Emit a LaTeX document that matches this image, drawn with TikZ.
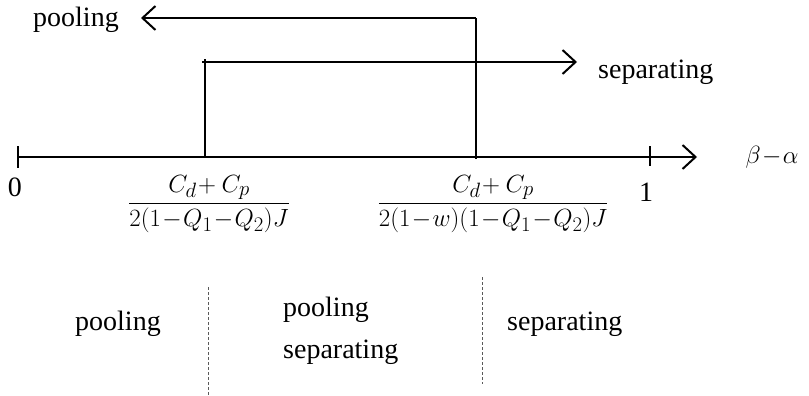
\documentclass[tikz,border=0pt]{standalone}
\usepackage{amsmath}
\usepackage{fontspec}
\setmainfont{Liberation Serif}
\usetikzlibrary{arrows.meta}
\begin{document}
\begin{tikzpicture}[x=1pt,y=-1pt,
  solidline/.style={line width=2pt},
  arr/.style={solidline,-{Straight Barb[length=13pt,width=24pt,line width=2pt]}},
  sep/.style={densely dashed,line width=0.8pt,gray!70!black},
  lbl/.style={inner sep=0pt,font=\fontsize{28}{32}\selectfont},
  mlbl/.style={inner sep=0pt,font=\fontsize{29}{34}\selectfont}]
\useasboundingbox (0,0) rectangle (809,396);
% axis
\coordinate (o) at (18,157);
\coordinate (axend) at (697,157);
\draw[arr] (o) -- (axend);
\coordinate (t0a) at (18,146); \coordinate (t0b) at (18,168);
\draw[solidline] (t0a) -- (t0b);
\coordinate (t1a) at (650,146); \coordinate (t1b) at (650,166);
\draw[solidline] (t1a) -- (t1b);
% separating bracket
\coordinate (sbase) at (205,157); \coordinate (stop) at (205,59);
\coordinate (sleft) at (202,62); \coordinate (send) at (577,62);
\draw[solidline] (sbase) -- (stop);
\draw[arr] (sleft) -- (send);
% pooling bracket
\coordinate (pbase) at (476,159); \coordinate (ptop) at (476,18);
\coordinate (pend) at (141,18);
\draw[solidline] (pbase) -- (ptop);
\draw[arr] (ptop) -- (pend);
% labels top
\node[lbl,anchor=base west] (ptext) at (33,27) {pooling};
\node[lbl,anchor=base west] (stext) at (598,79) {separating};
% axis labels
\node[lbl] (zero) at (15,187) {0};
\node[lbl] (one) at (646,192) {1};
\node[mlbl,font=\fontsize{27}{32}\selectfont] (ba) at (772,157) {$\beta\!-\!\alpha$};
\node[mlbl] (f1) at (209,204) {$\dfrac{C_d\!+C_p}{2(1\!-\!Q_1\!-\!Q_2)J}$};
\node[mlbl] (f2) at (493,204) {$\dfrac{C_d\!+C_p}{2(1\!-\!w)(1\!-\!Q_1\!-\!Q_2)J}$};
% bottom regions
\coordinate (d1a) at (208,287); \coordinate (d1b) at (208,396);
\coordinate (d2a) at (482,277); \coordinate (d2b) at (482,384);
\draw[sep] (d1a) -- (d1b);
\draw[sep] (d2a) -- (d2b);
\node[lbl,anchor=base west] (r1) at (75,330) {pooling};
\node[lbl,anchor=base west] (r2a) at (283,316) {pooling};
\node[lbl,anchor=base west] (r2b) at (283,358) {separating};
\node[lbl,anchor=base west] (r3) at (507,330) {separating};
\end{tikzpicture}
\end{document}
